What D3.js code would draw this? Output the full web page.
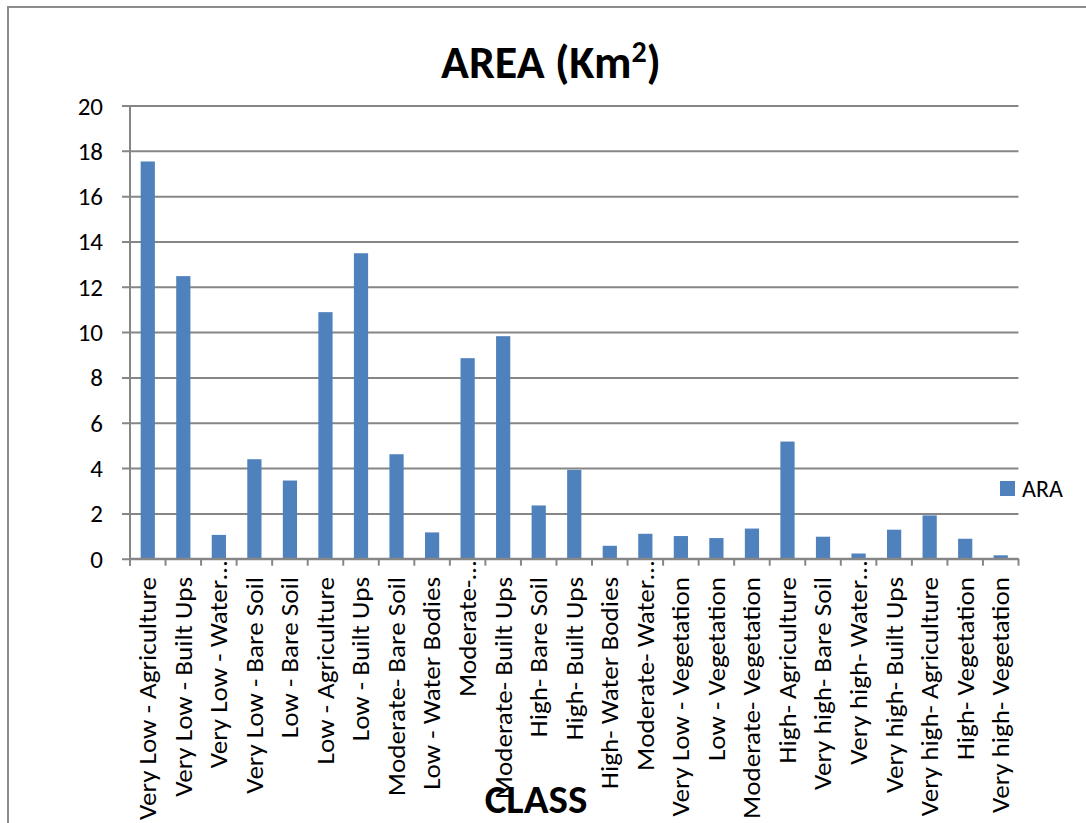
<!DOCTYPE html>
<html>
<head>
<meta charset="utf-8">
<script src="https://cdn.jsdelivr.net/npm/d3@7"></script>
<style>
  html, body { margin: 0; padding: 0; background: #fff; }
  svg { display: block; }
  text { font-family: Carlito, Calibri, Lato, "Open Sans", sans-serif; fill: #000; }
</style>
</head>
<body>
<svg id="chart" width="1086" height="823"></svg>
<script>
// Area (km²) per class combination
const categories = [
  "Very Low - Agriculture", "Very Low - Built Ups", "Very Low - Water…",
  "Very Low - Bare Soil", "Low - Bare Soil", "Low - Agriculture",
  "Low - Built Ups", "Moderate- Bare Soil", "Low - Water Bodies",
  "Moderate-…", "Moderate- Built Ups", "High- Bare Soil", "High- Built Ups",
  "High- Water Bodies", "Moderate- Water…", "Very Low - Vegetation",
  "Low - Vegetation", "Moderate- Vegetation", "High- Agriculture",
  "Very high- Bare Soil", "Very high- Water…", "Very high- Built Ups",
  "Very high- Agriculture", "High- Vegetation", "Very high- Vegetation"
];
const areaValues = [
  17.53, 12.47, 1.05, 4.39, 3.45, 10.88, 13.48, 4.61, 1.16, 8.85, 9.82,
  2.35, 3.92, 0.57, 1.10, 1.00, 0.91, 1.33, 5.17, 0.97, 0.23, 1.28,
  1.91, 0.88, 0.15
];
const yTicks = [0, 2, 4, 6, 8, 10, 12, 14, 16, 18, 20];
const seriesName = "ARA";

const data = categories.map((c, i) => ({ name: c, value: areaValues[i] }));

const svg = d3.select("#chart");
const gridColor = "#868686";
const barColor = "#4f81bd";

// outer chart frame (top and left edges)
svg.append("path")
  .attr("d", "M8,823V7H1086")
  .attr("fill", "none")
  .attr("stroke", "#8c8c8c")
  .attr("stroke-width", 2);

const plot = { left: 130, right: 1018.5, top: 105.5, bottom: 558.7 };

const x = d3.scaleBand()
  .domain(categories)
  .range([plot.left, plot.right])
  .paddingInner(0.6)
  .paddingOuter(0.3);

const y = d3.scaleLinear()
  .domain([0, 20])
  .range([plot.bottom, plot.top]);

// horizontal gridlines with short outward ticks
const yAxis = d3.axisLeft(y)
  .tickValues(yTicks)
  .tickSize(-(plot.right - plot.left))
  .tickSizeOuter(0)
  .tickPadding(27);

const gy = svg.append("g")
  .attr("transform", `translate(${plot.left},0)`)
  .call(yAxis);
gy.select(".domain").remove();
gy.selectAll(".tick line")
  .attr("x1", -8)
  .attr("stroke", gridColor)
  .attr("stroke-width", 2);
gy.selectAll(".tick text")
  .attr("font-size", 25)
  .attr("dy", "0.34em")
  .style("font-family", "Carlito, Calibri, Lato, sans-serif");

// vertical axis line
svg.append("line")
  .attr("x1", plot.left).attr("x2", plot.left)
  .attr("y1", plot.top).attr("y2", plot.bottom + 7)
  .attr("stroke", gridColor)
  .attr("stroke-width", 2);

// bars
svg.append("g")
  .selectAll("rect")
  .data(data)
  .join("rect")
  .attr("x", d => x(d.name))
  .attr("width", x.bandwidth())
  .attr("y", d => y(d.value))
  .attr("height", d => y(0) - y(d.value))
  .attr("fill", barColor);

// category axis with boundary ticks
const step = x.step();
const boundaries = d3.range(categories.length + 1).map(i => plot.left + i * step);
const gx = svg.append("g");
gx.append("line")
  .attr("x1", plot.left).attr("x2", plot.right)
  .attr("y1", plot.bottom).attr("y2", plot.bottom)
  .attr("stroke", gridColor)
  .attr("stroke-width", 2);
gx.selectAll("line.tk")
  .data(boundaries)
  .join("line")
  .attr("class", "tk")
  .attr("x1", d => d).attr("x2", d => d)
  .attr("y1", plot.bottom).attr("y2", plot.bottom + 7)
  .attr("stroke", gridColor)
  .attr("stroke-width", 2);

// rotated category labels, slightly elongated along the reading direction
gx.selectAll("text")
  .data(categories)
  .join("text")
  .attr("transform", d => {
    const cx = x(d) + x.bandwidth() / 2;
    const cy = d.endsWith("…") ? 561 : 577;
    return `translate(${cx},${cy}) rotate(-90) scale(1.13,1)`;
  })
  .attr("text-anchor", "end")
  .attr("dy", "0.35em")
  .attr("font-size", 24)
  .text(d => d);

// title
const title = svg.append("text")
  .attr("x", 551)
  .attr("y", 78)
  .attr("text-anchor", "middle")
  .attr("font-size", 46)
  .attr("font-weight", "bold");
title.append("tspan").text("AREA (Km");
title.append("tspan").attr("dy", -16).attr("font-size", 30).text("2");
title.append("tspan").attr("dy", 16).text(")");

// axis title
svg.append("text")
  .attr("x", 536)
  .attr("y", 813)
  .attr("text-anchor", "middle")
  .attr("font-size", 41)
  .attr("font-weight", "bold")
  .text("CLASS");

// legend
const legend = svg.append("g").attr("transform", "translate(1000,481)");
legend.append("rect")
  .attr("width", 15).attr("height", 15)
  .attr("fill", barColor);
legend.append("text")
  .attr("x", 22).attr("y", 7.5)
  .attr("dy", "0.35em")
  .attr("font-size", 24)
  .text(seriesName);
</script>
</body>
</html>
